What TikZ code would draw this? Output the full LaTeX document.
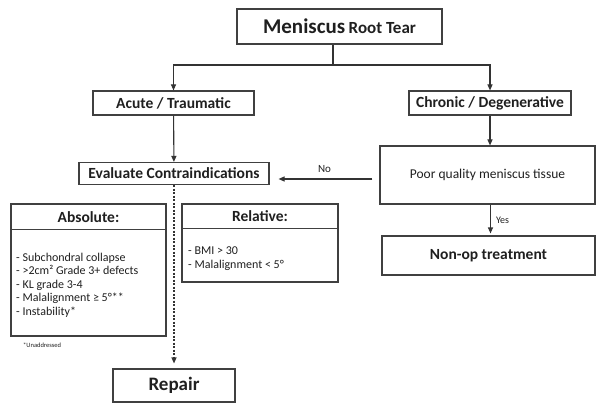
\documentclass[tikz,border=0pt]{standalone}
\usepackage{fontspec}
\setmainfont{Carlito}
\usetikzlibrary{arrows.meta}

\begin{document}
\begin{tikzpicture}[x=1pt, y=-1pt, >={Triangle[length=6pt,width=5pt]},
  every node/.style={rectangle, inner sep=0pt, text=black!88},
  box/.style={draw=black!75, line width=1.1pt, align=center, font=\bfseries\fontsize{15.5}{18}\selectfont},
  panel/.style={draw=black!75, line width=1.1pt},
  head/.style={font=\bfseries\fontsize{15.5}{18}\selectfont},
  listtext/.style={align=left, anchor=north west, font=\fontsize{12}{14.7}\selectfont},
  arr/.style={->, draw=black!80, line width=1.1pt}]
  \useasboundingbox (0,0) rectangle (596,403);
  % boxes
  \node[box, minimum width=205pt, minimum height=35pt] (root) at (339.5,26.5) {{\fontsize{21}{24}\selectfont Meniscus} {\fontsize{17}{20}\selectfont Root Tear}};
  \node[box, minimum width=161pt, minimum height=24pt] (acute) at (173.5,103) {Acute / Traumatic};
  \node[box, minimum width=162pt, minimum height=24pt] (chronic) at (490,103) {Chronic / Degenerative};
  \node[box, minimum width=190pt, minimum height=22pt] (evalci) at (174,173.5) {Evaluate Contraindications};
  \node[box, minimum width=215pt, minimum height=58pt, font=\fontsize{13.5}{16}\selectfont] (poor) at (487.5,175) {Poor quality meniscus tissue};
  \node[box, minimum width=213pt, minimum height=39pt] (nonop) at (488.5,255.5) {Non-op treatment};
  \node[box, minimum width=122pt, minimum height=33pt, font=\bfseries\fontsize{19}{21}\selectfont] (repair) at (174,385.5) {Repair};
  % contraindication panels
  \node[panel, minimum width=155pt, minimum height=132pt] (absol) at (88.5,270) {};
  \node[panel, minimum width=156pt, minimum height=78pt] (relat) at (260,243) {};
  \draw[panel] ([yshift=-26pt]absol.north west) -- ([yshift=-26pt]absol.north east);
  \draw[panel] ([yshift=-25pt]relat.north west) -- ([yshift=-25pt]relat.north east);
  \node[head] (abshead) at (88.5,217) {Absolute:};
  \node[head] (relhead) at (260,216.5) {Relative:};
  \node[listtext] (abslist) at (16,253) {- Subchondral collapse\\[-1.3pt]- >2cm² Grade 3+ defects\\[-1.3pt]- KL grade 3-4\\[-1.3pt]- Malalignment ≥ 5°**\\[-1.3pt]- Instability*};
  \node[listtext] (rellist) at (188,247) {- BMI > 30\\[-1.3pt]- Malalignment < 5°};
  \node[anchor=west, font=\fontsize{6.5}{8}\selectfont] (note) at (23,345) {*Unaddressed};
  % connectors
  \coordinate (split) at (333,65);
  \draw[arr, -] (split |- root.south) -- (split);
  \draw[arr] (split) -| (acute.north); \draw[arr] (split) -| (chronic.north);
  \draw[arr] (acute) -- (evalci);
  \draw[arr] (chronic.south) -- (chronic.south |- poor.north);
  \draw[arr, shorten <=7pt, shorten >=9pt] ([yshift=-4pt]poor.west) -- ([yshift=-4pt]poor.west -| evalci.east) node[midway, above=6pt, font=\fontsize{11}{13}\selectfont] {No};
  \draw[arr, shorten >=2pt] ([xshift=3pt]poor.south) -- ([xshift=3pt]poor.south |- nonop.north) node[midway, right=5pt, font=\fontsize{10}{12}\selectfont] {Yes};
  \draw[arr, dash pattern=on 2pt off 1.5pt, shorten >=5pt] (evalci) -- (repair);
\end{tikzpicture}
\end{document}
